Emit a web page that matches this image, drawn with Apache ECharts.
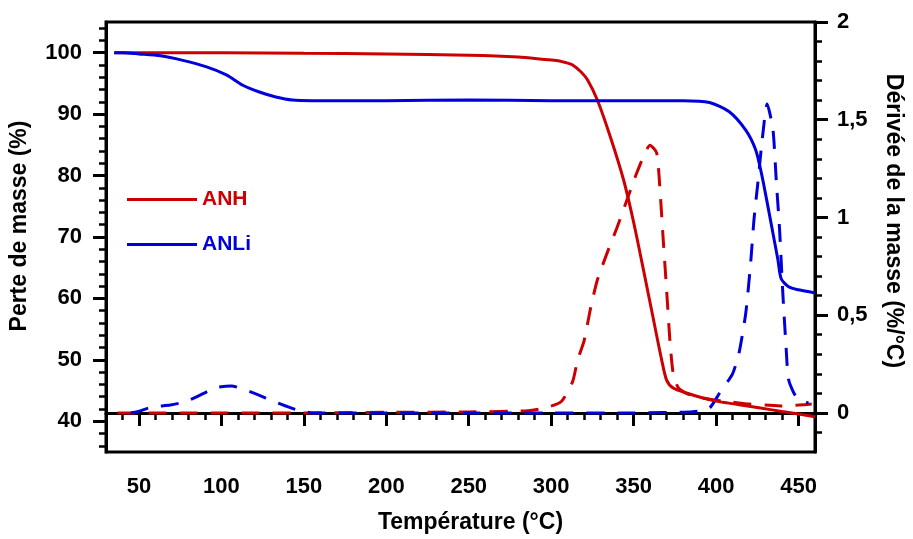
<!DOCTYPE html>
<html>
<head>
<meta charset="utf-8">
<script src="https://cdn.jsdelivr.net/npm/echarts@6/dist/echarts.min.js"></script>
<style>
html,body{margin:0;padding:0;background:#fff;}
#chart{width:913px;height:539px;}
</style>
</head>
<body>
<div id="chart"></div>
<script>
// ---- data ----
const anhMassT = [35, 60, 100, 150, 200, 250, 280, 296, 304, 310, 313, 318, 322, 328, 336, 344, 350, 356, 362, 367, 370, 374, 382, 392, 402, 414, 426, 440, 450, 460];
const anhMassV = [100, 100, 100, 99.9, 99.8, 99.6, 99.3, 98.9, 98.7, 98.3, 98.0, 96.9, 95.6, 92.3, 86.2, 79.2, 72.4, 64.6, 56.6, 50, 46.7, 45.4, 44.6, 43.8, 43.2, 42.7, 42.2, 41.6, 41.2, 40.75];

const anliMassT = [35, 40, 50, 63, 76, 91, 103, 113, 123, 133, 143, 155, 200, 250, 300, 350, 380, 396, 408, 418, 424, 427.5, 431.5, 434.5, 437.5, 439.5, 444, 450, 460];
const anliMassV = [100, 100, 99.8, 99.5, 98.8, 97.7, 96.4, 94.7, 93.6, 92.8, 92.3, 92.2, 92.2, 92.3, 92.2, 92.2, 92.2, 91.9, 90.4, 87.4, 84.2, 80.4, 74.9, 70.6, 66.3, 63.2, 61.9, 61.4, 60.9];

const anhDerT = [37, 60, 100, 150, 200, 250, 286, 296, 306, 313, 316, 320, 324, 328, 334, 340, 346, 352, 360, 364, 366, 368, 370, 372, 374, 377, 382, 390, 400, 410, 420, 430, 440, 450, 458];
const anhDerV = [0, 0, 0, 0, 0.003, 0.005, 0.011, 0.025, 0.057, 0.16, 0.27, 0.37, 0.54, 0.68, 0.82, 0.95, 1.09, 1.23, 1.37, 1.33, 1.14, 0.88, 0.63, 0.37, 0.2, 0.13, 0.1, 0.08, 0.065, 0.055, 0.045, 0.04, 0.035, 0.04, 0.045];

const anliDerT = [45, 49, 58, 69, 79, 88.5, 97, 106, 117, 127, 136, 146, 155, 200, 250, 300, 350, 386, 396, 402, 410, 414, 418, 421, 423, 425.5, 428, 431, 434.5, 436.5, 438.5, 440.5, 442.5, 444, 448.5, 456];
const anliDerV = [0, 0.006, 0.03, 0.04, 0.06, 0.097, 0.13, 0.138, 0.11, 0.076, 0.045, 0.015, 0, 0, 0, 0, 0, 0.006, 0.025, 0.1, 0.2, 0.31, 0.51, 0.77, 0.99, 1.19, 1.40, 1.58, 1.45, 1.19, 0.94, 0.61, 0.33, 0.17, 0.083, 0.05];

const xMajorTicks = [50, 100, 150, 200, 250, 300, 350, 400, 450];
const yLeftMajorTicks = [40, 50, 60, 70, 80, 90, 100];
const yLeftMinorTicks = [36, 38, 42, 44, 46, 48, 52, 54, 56, 58, 62, 64, 66, 68, 72, 74, 76, 78, 82, 84, 86, 88, 92, 94, 96, 98, 102, 104];
const yRightMajorTicks = [0, 0.5, 1, 1.5, 2];
const yRightMinorTicks = [-0.1, 0.1, 0.2, 0.3, 0.4, 0.6, 0.7, 0.8, 0.9, 1.1, 1.2, 1.3, 1.4, 1.6, 1.7, 1.8, 1.9];
const seriesNames = ['ANH', 'ANLi'];

// ---- styling ----
const RED = '#cc0000';
const BLUE = '#0000dd';
const FONT = '"Liberation Sans", Arial, sans-serif';
const zip = (a, b) => a.map((t, i) => [t, b[i]]);

const labelStyle = {fontFamily: FONT, fontWeight: 'bold', fontSize: 22, color: '#000'};
const nameStyle = {fontFamily: FONT, fontWeight: 'bold', fontSize: 23, color: '#000'};

const chart = echarts.init(document.getElementById('chart'), null, {renderer: 'canvas'});
chart.setOption({
  animation: false,
  backgroundColor: '#fff',
  grid: {left: 106, right: 94, top: 22, bottom: 87, show: true, borderColor: '#000', borderWidth: 3, backgroundColor: 'transparent'},
  legend: {
    orient: 'vertical', left: 122, top: 184, itemWidth: 70, itemHeight: 3, itemGap: 24, icon: 'rect',
    textStyle: {fontFamily: FONT, fontWeight: 'bold', fontSize: 21},
    data: [
      {name: seriesNames[0], textStyle: {color: RED}},
      {name: seriesNames[1], textStyle: {color: BLUE}}
    ]
  },
  xAxis: [
    {
      type: 'value', min: 30, max: 460, position: 'bottom',
      name: 'Température (°C)', nameLocation: 'middle', nameGap: 59,
      nameTextStyle: {...nameStyle, padding: [0, 0, 0, 20]},
      axisLine: {show: true, lineStyle: {color: '#000', width: 3}},
      axisTick: {show: true, customValues: xMajorTicks, length: 13, lineStyle: {color: '#000', width: 3}},
      axisLabel: {customValues: xMajorTicks, margin: 24, ...labelStyle},
      splitLine: {show: false}
    },
    {
      type: 'value', min: 30, max: 460, interval: 10, position: 'bottom',
      axisLine: {show: false},
      axisTick: {show: true, length: 7, lineStyle: {color: '#000', width: 2.5}},
      axisLabel: {show: false},
      splitLine: {show: false}
    }
  ],
  yAxis: [
    {
      type: 'value', min: 35, max: 105, position: 'left',
      name: 'Perte de masse (%)', nameLocation: 'middle', nameGap: 75, nameRotate: 90,
      nameTextStyle: {...nameStyle, padding: [0, 0, 0, 22]},
      axisLine: {show: true, lineStyle: {color: '#000', width: 3}},
      axisTick: {show: true, customValues: yLeftMajorTicks, length: 13, lineStyle: {color: '#000', width: 3}},
      axisLabel: {customValues: yLeftMajorTicks, margin: 24, ...labelStyle},
      splitLine: {show: false}
    },
    {
      type: 'value', min: -0.2, max: 2, position: 'right',
      name: 'Dérivée de la masse (%/°C)', nameLocation: 'middle', nameGap: 67, nameRotate: -90,
      nameTextStyle: {...nameStyle, padding: [0, 32, 0, 0]},
      axisLine: {show: true, lineStyle: {color: '#000', width: 3}},
      axisTick: {show: true, customValues: yRightMajorTicks, length: 13, lineStyle: {color: '#000', width: 3}},
      axisLabel: {customValues: yRightMajorTicks, margin: 22, ...labelStyle, formatter: v => String(v).replace('.', ',')},
      splitLine: {show: false}
    },
    {
      type: 'value', min: 35, max: 105, position: 'left',
      axisLine: {show: false},
      axisTick: {show: true, customValues: yLeftMinorTicks, length: 7, lineStyle: {color: '#000', width: 2.5}},
      axisLabel: {show: false},
      splitLine: {show: false}
    },
    {
      type: 'value', min: -0.2, max: 2, position: 'right',
      axisLine: {show: false},
      axisTick: {show: true, customValues: yRightMinorTicks, length: 7, lineStyle: {color: '#000', width: 2.5}},
      axisLabel: {show: false},
      splitLine: {show: false}
    }
  ],
  series: [
    {name: seriesNames[0], type: 'line', xAxisIndex: 0, yAxisIndex: 0, data: zip(anhMassT, anhMassV),
     showSymbol: false, symbol: 'none', smooth: 0.25, color: RED, lineStyle: {color: RED, width: 3}, z: 3},
    {name: seriesNames[1], type: 'line', xAxisIndex: 0, yAxisIndex: 0, data: zip(anliMassT, anliMassV),
     showSymbol: false, symbol: 'none', smooth: 0.25, color: BLUE, lineStyle: {color: BLUE, width: 3}, z: 3},
    {name: 'ANH dérivée', type: 'line', xAxisIndex: 0, yAxisIndex: 1, data: zip(anhDerT, anhDerV),
     showSymbol: false, symbol: 'none', smooth: 0.2, color: RED, lineStyle: {color: RED, width: 3, type: [18, 13]}, z: 2},
    {name: 'ANLi dérivée', type: 'line', xAxisIndex: 0, yAxisIndex: 1, data: zip(anliDerT, anliDerV),
     showSymbol: false, symbol: 'none', smooth: 0.2, color: BLUE, lineStyle: {color: BLUE, width: 3, type: [18, 13]}, z: 2}
  ]
});
</script>
</body>
</html>
